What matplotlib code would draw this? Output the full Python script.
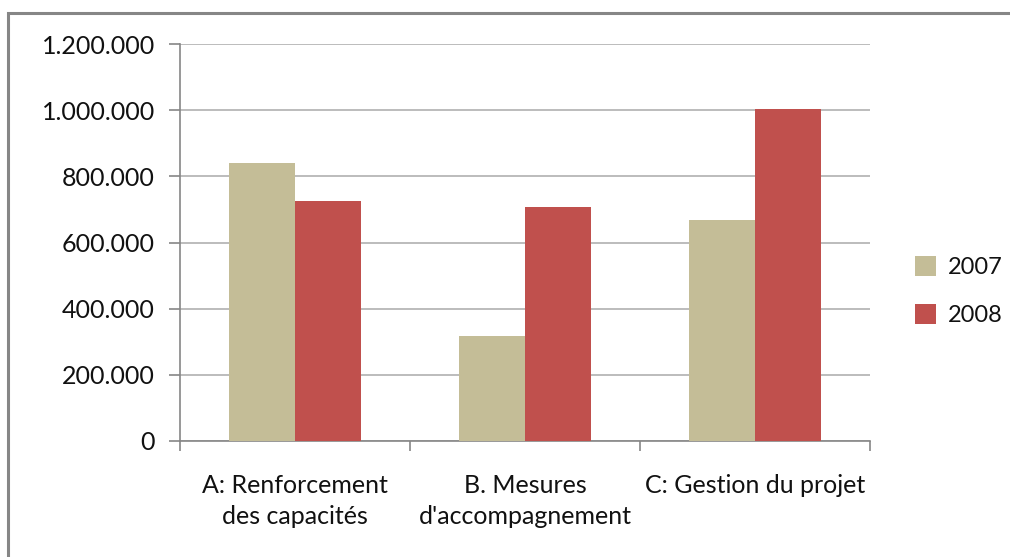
import matplotlib.pyplot as plt
import numpy as np
from matplotlib.ticker import FuncFormatter, FixedLocator
from matplotlib.patches import Rectangle

categories = ["A: Renforcement\ndes capacités", "B. Mesures\nd'accompagnement", "C: Gestion du projet"]
series_names = ["2007", "2008"]
values_2007 = [840000, 316000, 669000]
values_2008 = [726000, 708000, 1005000]
colors = ["#C4BD97", "#C0504D"]

plt.rcParams['font.family'] = ['Lato', 'DejaVu Sans']

W, H = 1010, 557
fig = plt.figure(figsize=(W / 100, H / 100), dpi=100)
fig.patch.set_facecolor("white")

# gray frame around the chart area (runs off the right and bottom edges)
fig.patches.append(Rectangle((8 / W, -0.1), 1.1, 1 - 13 / H + 0.1, transform=fig.transFigure,
                             fill=False, edgecolor="#868686", linewidth=2.2))

ax = fig.add_axes([180 / W, 1 - 441 / H, 690 / W, 397 / H])

x = np.arange(len(categories))
bw = 0.287
ax.bar(x - bw / 2, values_2007, bw, color=colors[0], label=series_names[0], zorder=3)
ax.bar(x + bw / 2, values_2008, bw, color=colors[1], label=series_names[1], zorder=3)

ax.set_xlim(-0.5, len(categories) - 0.5)
ax.set_ylim(0, 1200000)
ax.set_yticks(np.arange(0, 1200001, 200000))
ax.yaxis.set_major_formatter(FuncFormatter(lambda v, p: f"{int(v):,}".replace(",", ".")))
ax.yaxis.grid(True, color="#B0B0B0", linewidth=1.2, zorder=0)

ax.set_xticks(x)
ax.set_xticklabels(categories, linespacing=1.4)
ax.xaxis.set_minor_locator(FixedLocator(np.arange(-0.5, len(categories), 1.0)))
ax.tick_params(axis="x", which="major", length=0, pad=24, labelsize=18, colors="#111111")
ax.tick_params(axis="x", which="minor", length=7, width=1.2, color="#868686", direction="out")
ax.tick_params(axis="y", length=8, width=1.2, color="#868686", pad=10, labelsize=18,
               labelcolor="#111111", direction="out")

for s in ["top", "right"]:
    ax.spines[s].set_visible(False)
for s in ["left", "bottom"]:
    ax.spines[s].set_color("#868686")
    ax.spines[s].set_linewidth(1.2)

leg = ax.legend(loc="center left", bbox_to_anchor=(915 / W, 1 - 291 / H), bbox_transform=fig.transFigure,
                frameon=False, fontsize=17, handlelength=0.9, handleheight=0.9, labelspacing=1.1,
                handletextpad=0.5, borderaxespad=0, borderpad=0)
for t in leg.get_texts():
    t.set_color("#111111")

fig.savefig("out.png", dpi=100)
